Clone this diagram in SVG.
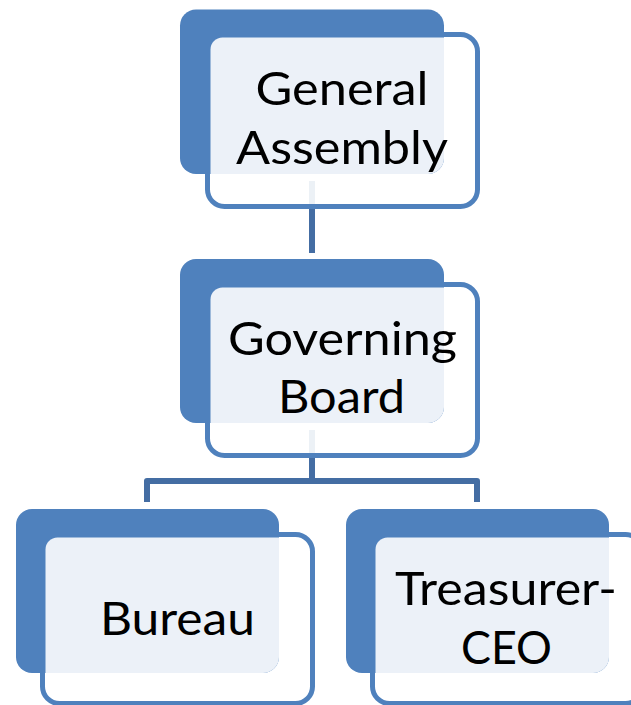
<svg xmlns="http://www.w3.org/2000/svg" width="631" height="705" viewBox="0 0 631 705">
<style>
.back{fill:#4F81BD}
.front{fill:#FFFFFF;fill-opacity:0.9;stroke:#4F81BD;stroke-width:5}
.light{fill:#ECF1F8}
.conn{fill:none;stroke:#446DA3;stroke-width:6;stroke-linejoin:round}
.t{font-family:Lato,"Liberation Sans",sans-serif;font-size:46px;fill:#000000}
</style>
<rect width="631" height="705" fill="#FFFFFF"/>
<g id="connectors">
<line class="conn" x1="312" y1="181" x2="312" y2="253"/>
<line class="conn" x1="312" y1="430" x2="312" y2="481"/>
<polyline class="conn" points="147,502 147,481 477,481 477,502"/>
</g>
<g id="general-assembly">
<rect class="front" x="207.5" y="34.5" width="270" height="172" rx="17"/>
<rect class="back" x="180" y="9.5" width="264" height="164.5" rx="16"/>
<path class="light" d="M222.5,37.5 H444 V158 A16,16 0 0 1 428,174 H210.5 V49.5 A12,12 0 0 1 222.5,37.5 Z"/>
<text class="t" x="255.5" y="105" textLength="173" lengthAdjust="spacingAndGlyphs">General</text>
<text class="t" x="236" y="164" textLength="212" lengthAdjust="spacingAndGlyphs">Assembly</text>
</g>
<g id="governing-board">
<rect class="front" x="207.5" y="284.5" width="270" height="171" rx="17"/>
<rect class="back" x="180" y="259" width="264" height="164" rx="16"/>
<path class="light" d="M222.5,287.5 H444 V407 A16,16 0 0 1 428,423 H210.5 V299.5 A12,12 0 0 1 222.5,287.5 Z"/>
<text class="t" x="228" y="355" textLength="229" lengthAdjust="spacingAndGlyphs">Governing</text>
<text class="t" x="278" y="413" textLength="127" lengthAdjust="spacingAndGlyphs">Board</text>
</g>
<g id="bureau">
<rect class="front" x="42.5" y="534.5" width="270" height="169" rx="17"/>
<rect class="back" x="16" y="509" width="263" height="164" rx="16"/>
<path class="light" d="M57.5,537.5 H279 V657 A16,16 0 0 1 263,673 H45.5 V549.5 A12,12 0 0 1 57.5,537.5 Z"/>
<text class="t" x="100" y="635" textLength="155" lengthAdjust="spacingAndGlyphs">Bureau</text>
</g>
<g id="treasurer-ceo">
<rect class="front" x="372.5" y="534.5" width="270" height="169" rx="17"/>
<rect class="back" x="346" y="509" width="263" height="164" rx="16"/>
<path class="light" d="M387.5,537.5 H609 V657 A16,16 0 0 1 593,673 H375.5 V549.5 A12,12 0 0 1 387.5,537.5 Z"/>
<text class="t" x="395" y="605" textLength="222" lengthAdjust="spacingAndGlyphs">Treasurer-</text>
<text class="t" x="461" y="664" textLength="91" lengthAdjust="spacingAndGlyphs">CEO</text>
</g>
</svg>
